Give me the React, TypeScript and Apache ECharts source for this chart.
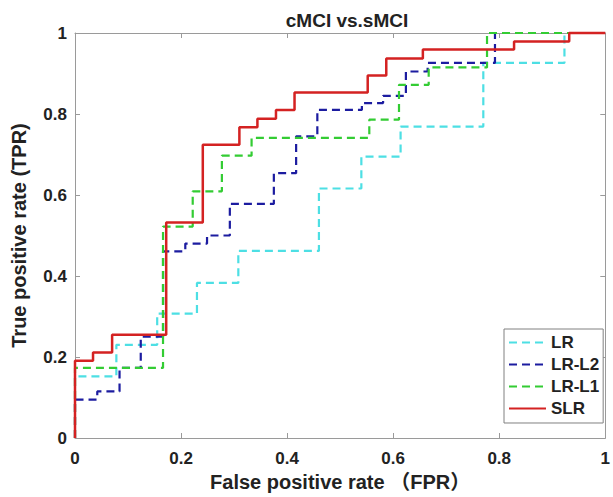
import React, { useEffect, useRef } from "react";
import * as echarts from "echarts";

const FONT = "'Liberation Sans', Arial, 'Noto Sans CJK SC', sans-serif";

const SERIES_NAMES = ["LR", "LR-L2", "LR-L1", "SLR"];

const FPR_LR = [0, 0, 0.078, 0.155, 0.23, 0.308, 0.46, 0.54, 0.614, 0.77, 0.923, 1];
const TPR_LR = [0, 0.152, 0.23, 0.307, 0.383, 0.462, 0.616, 0.695, 0.769, 0.926, 1, 1];

const FPR_L2 = [0, 0, 0.042, 0.084, 0.124, 0.166, 0.208, 0.249, 0.292, 0.375, 0.417, 0.457, 0.541, 0.581, 0.624, 0.665, 0.792, 1];
const TPR_L2 = [0, 0.095, 0.115, 0.173, 0.25, 0.461, 0.48, 0.5, 0.578, 0.654, 0.745, 0.81, 0.827, 0.845, 0.905, 0.926, 1, 1];

const FPR_L1 = [0, 0, 0.166, 0.222, 0.277, 0.333, 0.555, 0.611, 0.667, 0.777, 1];
const TPR_L1 = [0, 0.173, 0.522, 0.609, 0.697, 0.741, 0.786, 0.872, 0.915, 1, 1];

const FPR_SLR = [0, 0, 0.034, 0.07, 0.172, 0.241, 0.31, 0.344, 0.379, 0.414, 0.552, 0.587, 0.656, 0.828, 0.932, 1];
const TPR_SLR = [0, 0.191, 0.211, 0.255, 0.532, 0.724, 0.767, 0.788, 0.81, 0.853, 0.895, 0.937, 0.959, 0.979, 1, 1];

const COLORS = ["#4ddfe4", "#1c1ca0", "#33cc33", "#d42222"];

function pairs(xs: number[], ys: number[]) {
  return xs.map((x, i) => [x, ys[i]]);
}

export default function App() {
  const ref = useRef<HTMLDivElement>(null);
  useEffect(() => {
    if (!ref.current) return;
    const chart = echarts.init(ref.current, null, { renderer: "svg" });
    const axisColor = "#9a9a9a";
    const data = [
      pairs(FPR_LR, TPR_LR),
      pairs(FPR_L2, TPR_L2),
      pairs(FPR_L1, TPR_L1),
      pairs(FPR_SLR, TPR_SLR),
    ];
    const baseAxis = {
      type: "value",
      min: 0,
      max: 1,
      interval: 0.2,
      splitLine: { show: false },
      axisLine: { show: true, onZero: false, lineStyle: { color: axisColor, width: 1 } },
      axisTick: { show: true, inside: true, length: 5, lineStyle: { color: axisColor } },
    };
    chart.setOption({
      animation: false,
      backgroundColor: "#ffffff",
      title: {
        text: "cMCI vs.sMCI",
        left: 342,
        top: 6,
        textAlign: "center",
        textStyle: { fontFamily: FONT, fontSize: 19, fontWeight: "bold", color: "#222" },
      },
      grid: { left: 75, right: 2, top: 33, bottom: 59 },
      legend: {
        data: SERIES_NAMES,
        orient: "vertical",
        left: 504,
        top: 329,
        padding: [5, 4, 6, 4],
        itemWidth: 37,
        itemHeight: 14,
        itemGap: 5,
        borderColor: "#808080",
        borderWidth: 1,
        backgroundColor: "#ffffff",
        itemStyle: { opacity: 0 },
        textStyle: { fontFamily: FONT, fontSize: 17, fontWeight: "bold", color: "#222" },
      },
      xAxis: [
        {
          ...baseAxis,
          position: "bottom",
          axisLabel: { fontFamily: FONT, fontSize: 17, fontWeight: "bold", color: "#222", margin: 12 },
          name: "False positive rate （FPR）",
          nameLocation: "middle",
          nameGap: 32,
          nameTextStyle: { fontFamily: FONT, fontSize: 20, fontWeight: "bold", color: "#222" },
        },
        { ...baseAxis, position: "top", axisLabel: { show: false } },
      ],
      yAxis: [
        {
          ...baseAxis,
          position: "left",
          axisLabel: { fontFamily: FONT, fontSize: 17, fontWeight: "bold", color: "#222", margin: 8 },
          name: "True positive rate (TPR)",
          nameLocation: "middle",
          nameGap: 46,
          nameTextStyle: { fontFamily: FONT, fontSize: 20, fontWeight: "bold", color: "#222" },
        },
        { ...baseAxis, position: "right", axisLabel: { show: false } },
      ],
      series: SERIES_NAMES.map((name, i) => ({
        name,
        type: "line",
        step: "end",
        data: data[i],
        symbol: "none",
        showSymbol: false,
        clip: false,
        color: COLORS[i],
        lineStyle: {
          color: COLORS[i],
          width: i === 3 ? 2.5 : 2.2,
          type: i === 3 ? "solid" : [8, 5],
        },
      })),
    });
    return () => chart.dispose();
  }, []);
  return (
    <div
      ref={ref}
      style={{ position: "fixed", left: 0, top: 0, width: 613, height: 497 }}
    />
  );
}
